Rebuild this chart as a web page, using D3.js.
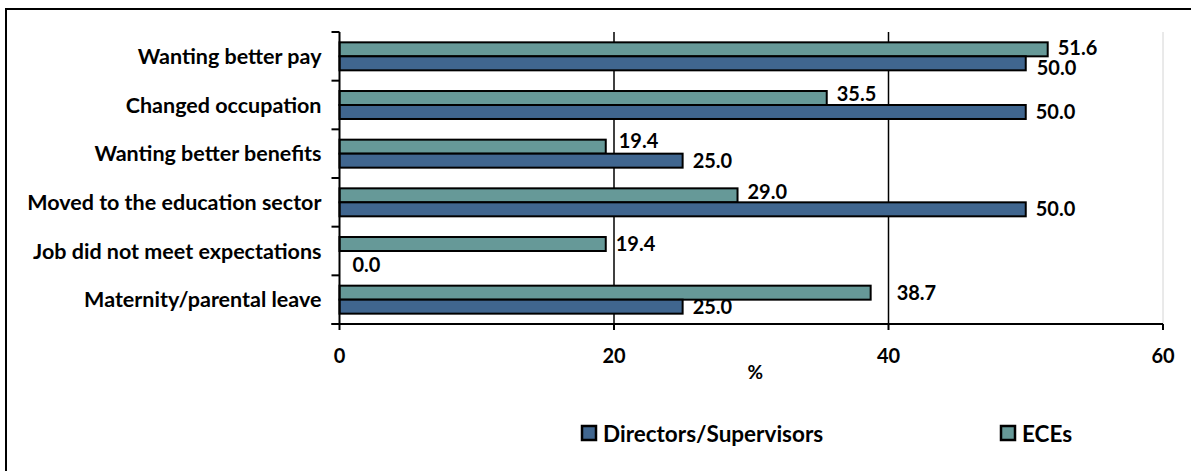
<!DOCTYPE html>
<html>
<head>
<meta charset="utf-8">
<script src="https://cdn.jsdelivr.net/npm/d3@7"></script>
<style>
  body { margin: 0; background: #fff; }
  svg { display: block; font-family: Lato, "Open Sans", sans-serif; font-weight: bold; }
</style>
</head>
<body>
<svg id="chart"></svg>
<script>
// reasons for leaving, % of respondents
const categories = [
  "Wanting better pay",
  "Changed occupation",
  "Wanting better benefits",
  "Moved to the education sector",
  "Job did not meet expectations",
  "Maternity/parental leave"
];
const eceValues = [51.6, 35.5, 19.4, 29.0, 19.4, 38.7];
const directorValues = [50.0, 50.0, 25.0, 50.0, 0.0, 25.0];
const seriesNames = ["Directors/Supervisors", "ECEs"];
const xTicks = [0, 20, 40, 60];

const width = 1191, height = 471;
const colors = { "ECEs": "#669998", "Directors/Supervisors": "#40668f" };

const svg = d3.select("#chart").attr("width", width).attr("height", height);

// outer frame
svg.append("rect")
  .attr("x", 6).attr("y", 9)
  .attr("width", 1195).attr("height", 475)
  .style("fill", "none").style("stroke", "#000").style("stroke-width", 2);

const x = d3.scaleLinear().domain([0, 60]).range([339.5, 1163]);
const y = d3.scaleBand().domain(categories).range([32, 324])
  .paddingInner(0.425).paddingOuter(0.2125);
// ECE bar on top, directors below
const ySub = d3.scaleBand().domain(["ECEs", "Directors/Supervisors"]).range([0, y.bandwidth()]);

// grid lines
svg.selectAll(".grid")
  .data(xTicks.slice(1))
  .enter()
  .append("line")
  .attr("x1", d => x(d)).attr("x2", d => x(d))
  .attr("y1", 32).attr("y2", 324)
  .style("stroke", d => d === 60 ? "#d4d4d4" : "#000")
  .style("stroke-width", d => d === 60 ? 1 : 1.5);

// bars
const rows = categories.map((c, i) => ({ cat: c, ECEs: eceValues[i], "Directors/Supervisors": directorValues[i] }));
const bars = [];
rows.forEach(r => {
  ["ECEs", "Directors/Supervisors"].forEach(s => bars.push({ cat: r.cat, series: s, value: r[s] }));
});

svg.selectAll(".bar")
  .data(bars.filter(d => d.value > 0))
  .enter()
  .append("rect")
  .attr("class", "bar")
  .attr("x", x(0))
  .attr("y", d => y(d.cat) + ySub(d.series))
  .attr("width", d => x(d.value) - x(0))
  .attr("height", ySub.bandwidth())
  .style("fill", d => colors[d.series])
  .style("stroke", "#000")
  .style("stroke-width", 2);

// value labels (small nudges like the original's label layout)
const nudge = {
  "Wanting better pay|ECEs": [0, -1],
  "Wanting better pay|Directors/Supervisors": [1, 5],
  "Changed occupation|ECEs": [0, -4],
  "Wanting better benefits|ECEs": [3, -6],
  "Moved to the education sector|ECEs": [0, -3],
  "Job did not meet expectations|Directors/Supervisors": [3, 7],
  "Maternity/parental leave|ECEs": [16, 0]
};
svg.selectAll(".val")
  .data(bars)
  .enter()
  .append("text")
  .attr("class", "val")
  .attr("x", d => x(d.value) + 10 + (nudge[d.cat + "|" + d.series] || [0, 0])[0])
  .attr("y", d => y(d.cat) + ySub(d.series) + ySub.bandwidth() / 2 + 7 + (nudge[d.cat + "|" + d.series] || [0, 0])[1])
  .style("font-size", "20px")
  .text(d => d.value.toFixed(1));

// y axis
const yAxis = svg.append("g").attr("transform", `translate(${x(0)},0)`);
yAxis.append("line")
  .attr("x1", 0).attr("x2", 0).attr("y1", 32).attr("y2", 324)
  .style("stroke", "#000").style("stroke-width", 2);
const yTickPos = categories.map((c, i) => 32 + i * y.step());
yTickPos.push(324);
yAxis.selectAll(".ytick")
  .data(yTickPos)
  .enter()
  .append("line")
  .attr("x1", -8).attr("x2", 0)
  .attr("y1", d => d).attr("y2", d => d)
  .style("stroke", "#000").style("stroke-width", 2);
yAxis.selectAll(".ylab")
  .data(categories)
  .enter()
  .append("text")
  .attr("x", -18)
  .attr("y", d => y(d) + y.bandwidth() / 2 + 7.5)
  .attr("text-anchor", "end")
  .style("font-size", "21.5px")
  .text(d => d);

// x axis
const xAxis = svg.append("g").attr("transform", "translate(0,324)");
xAxis.append("line")
  .attr("x1", x(0) - 8).attr("x2", x(60))
  .style("stroke", "#000").style("stroke-width", 2);
xAxis.selectAll(".xtick")
  .data(xTicks)
  .enter()
  .append("line")
  .attr("x1", d => x(d)).attr("x2", d => x(d))
  .attr("y1", 0).attr("y2", 6)
  .style("stroke", "#000").style("stroke-width", 2);
xAxis.selectAll(".xlab")
  .data(xTicks)
  .enter()
  .append("text")
  .attr("x", d => x(d))
  .attr("y", 38.5)
  .attr("text-anchor", "middle")
  .style("font-size", "20px")
  .text(d => d);

svg.append("text")
  .attr("x", (x(0) + x(60)) / 2 + 4)
  .attr("y", 379)
  .attr("text-anchor", "middle")
  .style("font-size", "19px")
  .text("%");

// legend
const legendX = [581, 1000];
const legend = svg.selectAll(".legend")
  .data(seriesNames)
  .enter()
  .append("g")
  .attr("transform", (d, i) => `translate(${legendX[i]},425)`);
legend.append("rect")
  .attr("x", 1).attr("y", 1)
  .attr("width", 14).attr("height", 14)
  .style("fill", d => colors[d])
  .style("stroke", "#000").style("stroke-width", 2.5);
legend.append("text")
  .attr("x", 22)
  .attr("y", 16.5)
  .style("font-size", "22.5px")
  .text(d => d);
</script>
</body>
</html>
